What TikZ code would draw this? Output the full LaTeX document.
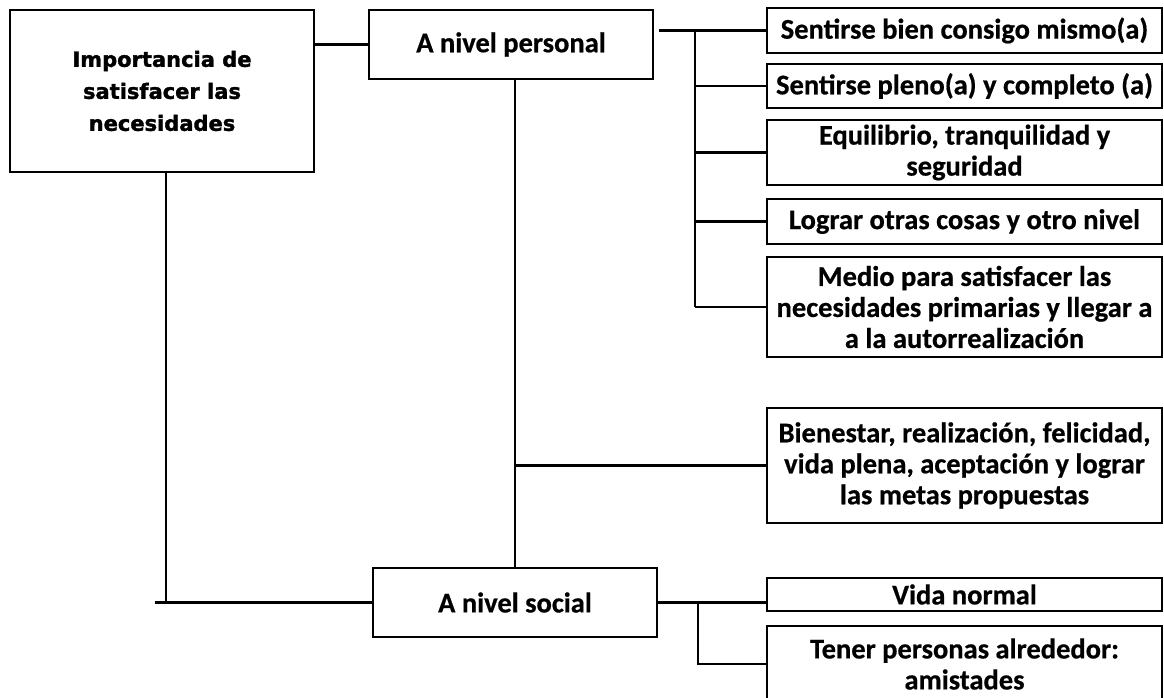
\documentclass[tikz,border=0pt]{standalone}
\usepackage{fontspec}
\setmainfont{Carlito}[BoldFeatures={FakeBold=0.6}]
\newfontfamily\headfont{DejaVu Sans Bold}[FakeBold=1.6]
\begin{document}
\begin{tikzpicture}[x=1pt,y=-1pt,
  box/.style={draw, line width=2.3pt, inner sep=0pt, align=center,
    font=\bfseries\fontsize{28.5}{31}\selectfont},
  item/.style={box, minimum width=395},
  link/.style={line width=2.3pt}]
\useasboundingbox (0,0) rectangle (1164,698);

% root and the two levels
\node[box, minimum width=304, minimum height=162,
  font=\headfont\fontsize{21}{32}\selectfont] (main) at (162,91)
  {Importancia de\\satisfacer las\\necesidades};
\node[box, minimum width=284, minimum height=69] (pers) at (511,44.5) {A nivel personal};
\node[box, minimum width=284, minimum height=69] (social) at (515,602.5) {A nivel social};

% personal branch items
\node[item, minimum height=45]  (r1) at (964.5,30.5)  {Sentirse bien consigo mismo(a)};
\node[item, minimum height=44]  (r2) at (964.5,86)    {Sentirse pleno(a) y completo (a)};
\node[item, minimum height=65]  (r3) at (964.5,152.5) {Equilibrio, tranquilidad y\\seguridad};
\node[item, minimum height=45]  (r4) at (964.5,221.5) {Lograr otras cosas y otro nivel};
\node[item, minimum height=100] (r5) at (964.5,307)   {Medio para satisfacer las\\necesidades primarias y llegar a\\a la autorrealización};
\node[item, minimum height=115] (r6) at (964.5,465.5) {Bienestar, realización, felicidad,\\vida plena, aceptación y lograr\\las metas propuestas};

% social branch items
\node[item, minimum height=33] (r7) at (964.5,594.5) {Vida normal};
\node[item, minimum height=76] (r8) at (964.5,664)   {Tener personas alrededor:\\amistades};

% bus lines
\coordinate (pbus) at (695,0);
\coordinate (sbus) at (698,0);
\coordinate (tail) at (155,602.5);

\draw[link] (pers.west) -- (pers.west -| main.east);
\draw[link] ([xshift=4pt]main.south) -- ([xshift=4pt]main.south |- social.west);
\draw[link] (tail) -- (social.west);
\draw[link] (social.north) -- (social.north |- pers.south);

\draw[link] (r1.west) -- ([xshift=5pt]r1.west -| pers.east);
\draw[link] (pbus |- r1.west) -- (pbus |- r5.west);
\foreach \n in {r2,r3,r4,r5} \draw[link] (\n.west) -- (\n.west -| pbus);
\draw[link] (r6.west) -- (r6.west -| social.north);

\draw[link] (social.east) -- (social.east -| r7.west);
\draw[link] (sbus |- social.east) |- (r8.west);
\end{tikzpicture}
\end{document}
